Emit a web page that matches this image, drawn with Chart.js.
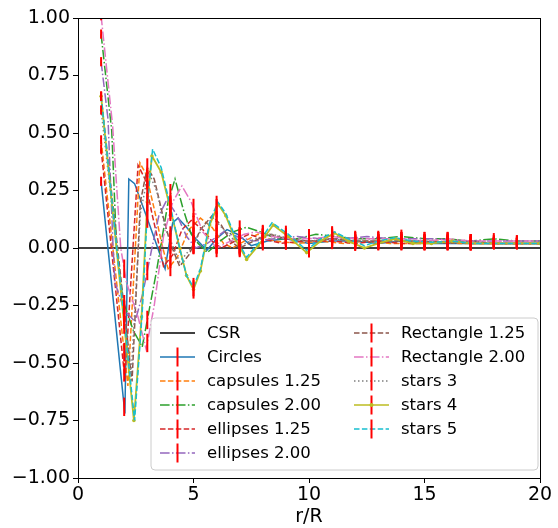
<!DOCTYPE html>
<html>
<head>
<meta charset="utf-8">
<script src="https://cdn.jsdelivr.net/npm/chart.js@4.4.1/dist/chart.umd.min.js"></script>
<style>
  html, body { margin: 0; padding: 0; background: #fff; }
  #wrap { width: 558px; height: 528px; position: relative; }
</style>
</head>
<body>
<div id="wrap"><canvas id="rdf"></canvas></div>
<script>
var csrX = [0, 20];
var csrY = [0, 0];

var circlesX = [1.0, 2.03, 2.2, 2.45, 3.1, 3.77, 4.1, 4.33, 4.7, 5.1, 5.58, 6.0, 6.45, 6.9, 7.5, 8.2, 9.0, 10, 11, 12, 13, 14, 15, 16, 17, 18, 19, 20];
var circlesY = [0.29, -0.72, 0.30, 0.28, 0.10, -0.09, 0.11, 0.13, 0.09, 0.04, -0.01, 0.04, 0.08, 0.06, 0.01, 0.03, 0.04, 0.02, 0.03, 0.03, 0.02, 0.03, 0.02, 0.02, 0.02, 0.02, 0.02, 0.02];

var caps125X = [1.0, 2.16, 2.68, 2.95, 3.3, 3.6, 3.9, 4.3, 4.8, 5.3, 5.8, 6.3, 6.7, 7.2, 7.8, 8.5, 9.5, 10.5, 11.5, 12.5, 13.5, 14.5, 15.5, 16.5, 17.5, 18.5, 20];
var caps125Y = [0.47, -0.60, 0.37, 0.32, 0.17, 0.03, -0.09, -0.04, 0.08, 0.13, 0.09, 0.02, 0.0, 0.03, 0.06, 0.03, 0.02, 0.03, 0.02, 0.03, 0.02, 0.02, 0.03, 0.02, 0.02, 0.02, 0.02];

var caps200X = [1.0, 1.46, 1.67, 1.95, 2.4, 2.78, 3.4, 3.9, 4.2, 4.55, 4.9, 5.2, 5.6, 6.15, 6.7, 7.3, 7.9, 8.6, 9.5, 10.3, 11.2, 12, 13, 14, 15, 16, 17, 18, 19, 20];
var caps200Y = [0.93, 0.51, 0.0, -0.23, -0.36, -0.43, -0.1, 0.2, 0.30, 0.17, 0.06, 0.02, -0.02, 0.03, 0.07, 0.09, 0.07, 0.04, 0.04, 0.06, 0.05, 0.04, 0.04, 0.05, 0.04, 0.04, 0.03, 0.04, 0.03, 0.03];

var ell125X = [1.0, 2.03, 2.6, 2.9, 3.2, 3.45, 3.7, 4.1, 4.5, 4.9, 5.4, 5.8, 6.2, 6.8, 7.4, 8.0, 8.8, 9.8, 11, 12, 13, 14, 15, 16, 17, 18, 19, 20];
var ell125Y = [0.43, -0.57, 0.36, 0.30, 0.15, 0.04, -0.08, -0.03, 0.08, 0.12, 0.08, 0.03, 0.0, 0.03, 0.06, 0.04, 0.02, 0.03, 0.03, 0.02, 0.03, 0.02, 0.02, 0.03, 0.02, 0.02, 0.02, 0.02];

var ell200X = [1.0, 1.3, 1.52, 1.6, 2.0, 2.47, 2.8, 3.2, 3.5, 3.85, 4.3, 4.7, 5.1, 5.6, 6.3, 6.9, 7.6, 8.5, 9.5, 10.5, 11.5, 12.5, 13.5, 14.5, 15.5, 16.5, 17.5, 18.5, 20];
var ell200Y = [0.81, 0.56, 0.0, -0.15, -0.27, -0.32, -0.2, 0.0, 0.14, 0.21, 0.14, 0.05, 0.0, 0.02, 0.07, 0.05, 0.03, 0.04, 0.05, 0.04, 0.04, 0.05, 0.04, 0.04, 0.04, 0.03, 0.03, 0.03, 0.03];

var rect125X = [1.0, 2.34, 2.7, 3.0, 3.3, 3.7, 4.0, 4.4, 4.8, 5.3, 5.8, 6.2, 6.6, 7.0, 7.6, 8.3, 9.0, 10, 11, 12, 13, 14, 15, 16, 17, 18, 19, 20];
var rect125Y = [0.66, -0.58, 0.20, 0.35, 0.30, 0.13, 0.02, -0.08, -0.03, 0.08, 0.14, 0.10, 0.03, 0.0, 0.03, 0.06, 0.04, 0.03, 0.04, 0.03, 0.03, 0.03, 0.03, 0.02, 0.03, 0.02, 0.02, 0.02];

var rect200X = [1.0, 1.5, 1.85, 2.1, 2.6, 2.95, 3.3, 3.7, 4.1, 4.5, 4.9, 5.4, 6.0, 6.6, 7.2, 7.7, 8.4, 9.2, 10, 11, 12, 13, 14, 15, 16, 17, 18, 19, 20];
var rect200Y = [1.01, 0.53, 0.0, -0.15, -0.30, -0.44, -0.25, 0.05, 0.20, 0.27, 0.20, 0.07, 0.0, 0.03, 0.06, 0.07, 0.05, 0.04, 0.04, 0.05, 0.04, 0.04, 0.04, 0.03, 0.04, 0.03, 0.03, 0.03, 0.03];

var stars3X = [1.0, 2.3, 2.7, 3.05, 3.4, 3.8, 4.4, 4.9, 5.4, 5.85, 6.4, 7.0, 7.7, 8.4, 9.2, 10, 11, 12, 13, 14, 15, 16, 17, 18, 19, 20];
var stars3Y = [0.60, -0.55, 0.15, 0.33, 0.25, 0.08, -0.06, 0.0, 0.09, 0.13, 0.07, 0.01, 0.04, 0.06, 0.04, 0.03, 0.04, 0.03, 0.03, 0.03, 0.03, 0.02, 0.03, 0.02, 0.02, 0.02];

var stars4X = [1.0, 2.42, 2.75, 3.0, 3.2, 3.6, 4.0, 4.4, 4.7, 5.0, 5.3, 5.7, 6.07, 6.4, 6.8, 7.3, 7.8, 8.45, 9.1, 9.9, 10.5, 11.1, 11.7, 12.4, 13.0, 13.7, 14.5, 15.3, 16.2, 17, 18, 19, 20];
var stars4Y = [0.66, -0.75, -0.30, 0.20, 0.40, 0.33, 0.17, 0.0, -0.12, -0.18, -0.10, 0.10, 0.19, 0.14, 0.04, -0.05, 0.01, 0.10, 0.05, -0.02, 0.03, 0.065, 0.03, 0.0, 0.02, 0.04, 0.02, 0.02, 0.03, 0.02, 0.02, 0.02, 0.02];

var stars5X = [1.0, 2.45, 2.78, 3.03, 3.23, 3.6, 4.0, 4.4, 4.7, 5.0, 5.3, 5.7, 6.05, 6.4, 6.8, 7.3, 7.8, 8.4, 9.1, 9.9, 10.5, 11.1, 11.7, 12.4, 13.0, 13.7, 14.5, 15.3, 16.2, 17, 18, 19, 20];
var stars5Y = [0.66, -0.75, -0.28, 0.22, 0.43, 0.35, 0.18, 0.0, -0.12, -0.17, -0.09, 0.11, 0.20, 0.15, 0.05, -0.04, 0.02, 0.11, 0.06, -0.01, 0.04, 0.07, 0.04, 0.01, 0.03, 0.045, 0.03, 0.025, 0.03, 0.02, 0.02, 0.02, 0.02];

var errX = [1, 2, 3, 4, 5, 6, 7, 8, 9, 10, 11, 12, 13, 14, 15, 16, 17, 18, 19];
var errSize = [0.02, 0.04, 0.04, 0.045, 0.04, 0.04, 0.04, 0.035, 0.03, 0.03, 0.03, 0.03, 0.03, 0.03, 0.03, 0.03, 0.03, 0.025, 0.025];

var xTicks = [0, 5, 10, 15, 20];
var yTicks = [-1, -0.75, -0.5, -0.25, 0, 0.25, 0.5, 0.75, 1];

(function () {
  var font = "'DejaVu Sans', sans-serif";
  var dash = { solid: [], dashed: [5.5, 2.4], dashdot: [9.6, 2.4, 1.5, 2.4], dotted: [1.5, 2.5] };

  var series = [
    { label: "CSR", x: csrX, y: csrY, color: "#000000", style: "solid", err: false },
    { label: "Circles", x: circlesX, y: circlesY, color: "#1f77b4", style: "solid", err: true },
    { label: "capsules 1.25", x: caps125X, y: caps125Y, color: "#ff7f0e", style: "dashed", err: true },
    { label: "capsules 2.00", x: caps200X, y: caps200Y, color: "#2ca02c", style: "dashdot", err: true },
    { label: "ellipses 1.25", x: ell125X, y: ell125Y, color: "#d62728", style: "dashed", err: true },
    { label: "ellipses 2.00", x: ell200X, y: ell200Y, color: "#9467bd", style: "dashdot", err: true },
    { label: "Rectangle 1.25", x: rect125X, y: rect125Y, color: "#8c564b", style: "dashed", err: true },
    { label: "Rectangle 2.00", x: rect200X, y: rect200Y, color: "#e377c2", style: "dashdot", err: true },
    { label: "stars 3", x: stars3X, y: stars3Y, color: "#7f7f7f", style: "dotted", err: true },
    { label: "stars 4", x: stars4X, y: stars4Y, color: "#bcbd22", style: "solid", err: true, marker: true },
    { label: "stars 5", x: stars5X, y: stars5Y, color: "#17becf", style: "dashed", err: true }
  ];

  var datasets = series.map(function (s, i) {
    return {
      label: s.label,
      data: s.x.map(function (v, j) { return { x: v, y: s.y[j] }; }),
      borderColor: s.color,
      backgroundColor: s.color,
      borderWidth: s.marker ? 1.8 : 1.5,
      borderDash: dash[s.style],
      pointRadius: s.marker ? 1.8 : 0,
      pointBorderWidth: 0,
      tension: 0,
      order: series.length - i
    };
  });

  function valueAt(s, x) {
    for (var j = 0; j < s.x.length - 1; j++) {
      if (x >= s.x[j] && x <= s.x[j + 1]) {
        var t = (x - s.x[j]) / (s.x[j + 1] - s.x[j]);
        return s.y[j] + t * (s.y[j + 1] - s.y[j]);
      }
    }
    return null;
  }

  var errPlugin = {
    id: "errbars",
    afterDatasetsDraw: function (chart) {
      var ctx = chart.ctx, xs = chart.scales.x, ys = chart.scales.y, a = chart.chartArea;
      ctx.save();
      ctx.beginPath();
      ctx.rect(a.left, a.top, a.right - a.left, a.bottom - a.top);
      ctx.clip();
      ctx.strokeStyle = "#ff0000";
      ctx.lineWidth = 2;
      series.forEach(function (s) {
        if (!s.err) return;
        errX.forEach(function (x, k) {
          var v = valueAt(s, x);
          if (v === null) return;
          var px = xs.getPixelForValue(x);
          ctx.beginPath();
          ctx.moveTo(px, ys.getPixelForValue(v - errSize[k]));
          ctx.lineTo(px, ys.getPixelForValue(v + errSize[k]));
          ctx.stroke();
        });
      });
      ctx.restore();

      // frame
      ctx.save();
      ctx.strokeStyle = "#000";
      ctx.lineWidth = 1;
      ctx.strokeRect(Math.round(a.left) + 0.5, Math.round(a.top) + 0.5, Math.round(a.right - a.left), Math.round(a.bottom - a.top));
      ctx.restore();
    }
  };

  var legendPlugin = {
    id: "mplLegend",
    afterDraw: function (chart) {
      var ctx = chart.ctx;
      var bx = 151, by = 318, bw = 387, bh = 152, r = 4;
      ctx.save();
      ctx.beginPath();
      ctx.moveTo(bx + r, by);
      ctx.arcTo(bx + bw, by, bx + bw, by + bh, r);
      ctx.arcTo(bx + bw, by + bh, bx, by + bh, r);
      ctx.arcTo(bx, by + bh, bx, by, r);
      ctx.arcTo(bx, by, bx + bw, by, r);
      ctx.closePath();
      ctx.fillStyle = "rgba(255,255,255,0.8)";
      ctx.fill();
      ctx.strokeStyle = "#cccccc";
      ctx.lineWidth = 1;
      ctx.stroke();

      ctx.font = "16.5px " + font;
      ctx.textBaseline = "middle";
      ctx.fillStyle = "#000";
      series.forEach(function (s, i) {
        var col = i < 6 ? 0 : 1;
        var row = i < 6 ? i : i - 6;
        var x0 = col === 0 ? 160 : 354;
        var y = 333 + row * 24;
        ctx.save();
        ctx.strokeStyle = s.color;
        ctx.lineWidth = 1.5;
        ctx.setLineDash(dash[s.style]);
        ctx.beginPath();
        ctx.moveTo(x0, y);
        ctx.lineTo(x0 + 35, y);
        ctx.stroke();
        ctx.setLineDash([]);
        if (s.err) {
          ctx.strokeStyle = "#ff0000";
          ctx.lineWidth = 2;
          ctx.beginPath();
          ctx.moveTo(x0 + 17.5, y - 9.5);
          ctx.lineTo(x0 + 17.5, y + 9.5);
          ctx.stroke();
        }
        if (s.marker) {
          ctx.fillStyle = s.color;
          ctx.beginPath();
          ctx.arc(x0 + 17.5, y, 2, 0, Math.PI * 2);
          ctx.fill();
        }
        ctx.restore();
        ctx.fillText(s.label, x0 + 47, y + 1);
      });
      ctx.restore();
    }
  };

  function fmtY(v) {
    var s = Math.abs(v).toFixed(2);
    return v < 0 ? "\u2212" + s : s;
  }

  new Chart(document.getElementById("rdf"), {
    type: "line",
    data: { datasets: datasets },
    options: {
      responsive: true,
      maintainAspectRatio: false,
      animation: false,
      layout: { padding: { top: 18, right: 18, left: 0, bottom: 0 } },
      plugins: { legend: { display: false }, tooltip: { enabled: false } },
      scales: {
        x: {
          type: "linear",
          min: 0,
          max: 20,
          afterFit: function (s) { s.height = 50; },
          afterBuildTicks: function (s) { s.ticks = xTicks.map(function (v) { return { value: v }; }); },
          ticks: { color: "#000", font: { size: 19, family: font }, padding: 1, maxRotation: 0 },
          grid: { drawOnChartArea: false, color: "#000", tickLength: 5 },
          border: { color: "#000" },
          title: { display: true, text: "r/R", color: "#000", font: { size: 19, family: font }, padding: { top: 0, bottom: 0 } }
        },
        y: {
          type: "linear",
          min: -1,
          max: 1,
          afterFit: function (s) { s.width = 78; },
          afterBuildTicks: function (s) { s.ticks = yTicks.map(function (v) { return { value: v }; }); },
          ticks: { color: "#000", font: { size: 19, family: font }, padding: 3, callback: fmtY },
          grid: { drawOnChartArea: false, color: "#000", tickLength: 5 },
          border: { color: "#000" }
        }
      }
    },
    plugins: [errPlugin, legendPlugin]
  });
})();
</script>
</body>
</html>
